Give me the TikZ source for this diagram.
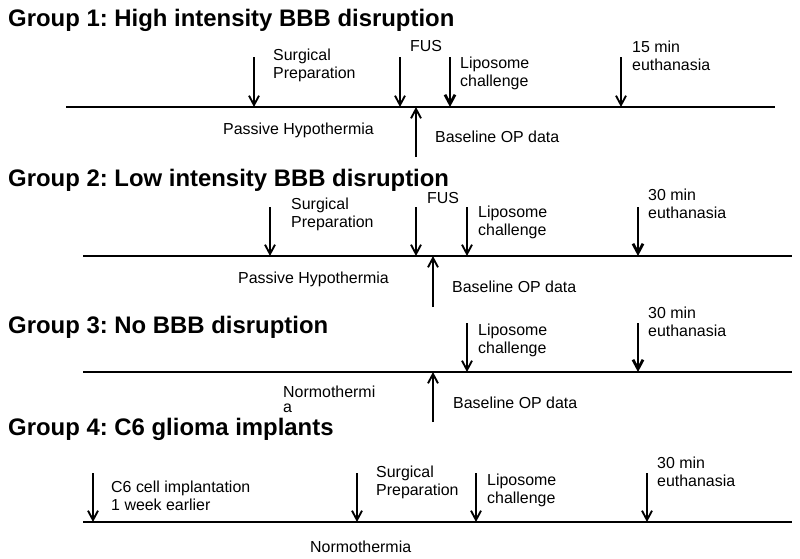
\documentclass[tikz,border=0pt]{standalone}
\usepackage{fontspec}
\setmainfont{Liberation Sans}
\usetikzlibrary{arrows.meta}
\begin{document}
\frenchspacing
\begin{tikzpicture}[x=0.03cm,y=-0.03cm,>={Straight Barb[length=2.8mm,width=3mm]},
    title/.style={anchor=base west,inner sep=0,font=\fontsize{20.4}{24}\selectfont\bfseries},
    lbl/.style={anchor=north west,inner sep=0,align=left,font=\fontsize{13.6}{15.4}\selectfont},
    tl/.style={line width=1.2pt},
    ev/.style={->,line width=1.6pt},
    evb/.style={->,line width=2.4pt}]
\fill[white] (0,0) rectangle (800,559);
\useasboundingbox (0,0) rectangle (800,559);
\begin{scope}
    \node[title] (g1) at (8,26) {Group 1: High intensity BBB disruption};
    \coordinate (a1) at (66,107); \coordinate (b1) at (775,107);
    \draw[tl] (a1)--(b1);
    \coordinate (sp1) at (254,57); \coordinate (fus1) at (400,57);
    \coordinate (lc1) at (450,57); \coordinate (eu1) at (621,57);
    \coordinate (op1) at (416,157);
    \draw[ev] (sp1)--(sp1|-a1);
    \draw[ev] (fus1)--(fus1|-a1);
    \draw[evb] (lc1)--(lc1|-a1);
    \draw[ev] (eu1)--(eu1|-a1);
    \draw[ev] (op1)--(op1|-a1);
    \node[lbl] (tsp1) at (273,49) {Surgical\\Preparation};
    \node[lbl] (tfus1) at (410,40) {FUS};
    \node[lbl] (tlc1) at (460,57) {Liposome\\challenge};
    \node[lbl] (teu1) at (632,41) {15 min\\euthanasia};
    \node[lbl] (tph1) at (223,123) {Passive Hypothermia};
    \node[lbl] (top1) at (435,131) {Baseline OP data};
\end{scope}
\begin{scope}
    \node[title] (g2) at (8,186) {Group 2: Low intensity BBB disruption};
    \coordinate (a2) at (83,256); \coordinate (b2) at (792,256);
    \draw[tl] (a2)--(b2);
    \coordinate (sp2) at (270,207); \coordinate (fus2) at (416,207);
    \coordinate (lc2) at (467,207); \coordinate (eu2) at (638,207);
    \coordinate (op2) at (433,307);
    \draw[ev] (sp2)--(sp2|-a2);
    \draw[ev] (fus2)--(fus2|-a2);
    \draw[ev] (lc2)--(lc2|-a2);
    \draw[evb] (eu2)--(eu2|-a2);
    \draw[ev] (op2)--(op2|-a2);
    \node[lbl] (tsp2) at (291,198) {Surgical\\Preparation};
    \node[lbl] (tfus2) at (427,192) {FUS};
    \node[lbl] (tlc2) at (478,206) {Liposome\\challenge};
    \node[lbl] (teu2) at (648,189) {30 min\\euthanasia};
    \node[lbl] (tph2) at (238,272) {Passive Hypothermia};
    \node[lbl] (top2) at (452,281) {Baseline OP data};
\end{scope}
\begin{scope}
    \node[title] (g3) at (8,333) {Group 3: No BBB disruption};
    \coordinate (a3) at (83,372); \coordinate (b3) at (792,372);
    \draw[tl] (a3)--(b3);
    \coordinate (lc3) at (467,323); \coordinate (eu3) at (638,323);
    \coordinate (op3) at (433,422);
    \draw[ev] (lc3)--(lc3|-a3);
    \draw[evb] (eu3)--(eu3|-a3);
    \draw[ev] (op3)--(op3|-a3);
    \node[lbl] (tlc3) at (478,324) {Liposome\\challenge};
    \node[lbl] (teu3) at (648,307) {30 min\\euthanasia};
    \node[lbl,font=\fontsize{13.6}{12.8}\selectfont] (tnt3) at (283,386) {Normothermi\\a};
    \node[lbl] (top3) at (453,397) {Baseline OP data};
\end{scope}
\begin{scope}
    \node[title] (g4) at (8,435) {Group 4: C6 glioma implants};
    \coordinate (a4) at (83,522); \coordinate (b4) at (792,522);
    \draw[tl] (a4)--(b4);
    \coordinate (c64) at (93,473); \coordinate (sp4) at (357,473);
    \coordinate (lc4) at (476,473); \coordinate (eu4) at (647,473);
    \draw[ev] (c64)--(c64|-a4);
    \draw[ev] (sp4)--(sp4|-a4);
    \draw[ev] (lc4)--(lc4|-a4);
    \draw[ev] (eu4)--(eu4|-a4);
    \node[lbl] (tc64) at (111,481) {C6 cell implantation\\1 week earlier};
    \node[lbl] (tsp4) at (376,466) {Surgical\\Preparation};
    \node[lbl] (tlc4) at (487,474) {Liposome\\challenge};
    \node[lbl] (teu4) at (657,457) {30 min\\euthanasia};
    \node[lbl] (tnt4) at (310,541) {Normothermia};
\end{scope}
\end{tikzpicture}
\end{document}
